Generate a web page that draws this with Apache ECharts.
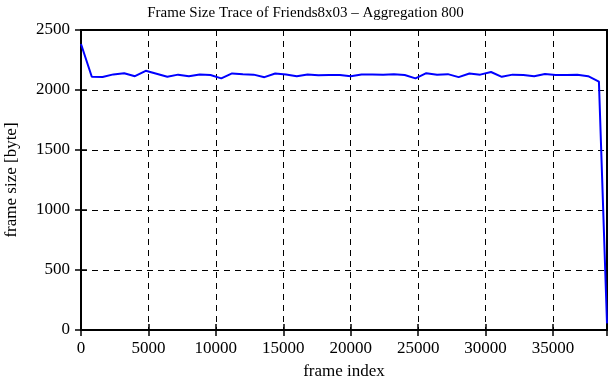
<!DOCTYPE html>
<html>
<head>
<meta charset="utf-8">
<script src="https://cdn.jsdelivr.net/npm/echarts@6/dist/echarts.min.js"></script>
<style>
  html, body { margin: 0; padding: 0; background: #fff; }
  #chart { width: 611px; height: 380px; }
</style>
</head>
<body>
<div id="chart"></div>
<script>
// frame index of each aggregated sample (every 800 frames, last one partial)
const frameIndex = [
    0, 800, 1600, 2400, 3200, 4000, 4800, 5600, 6400, 7200,
    8000, 8800, 9600, 10400, 11200, 12000, 12800, 13600, 14400, 15200,
    16000, 16800, 17600, 18400, 19200, 20000, 20800, 21600, 22400, 23200,
    24000, 24800, 25600, 26400, 27200, 28000, 28800, 29600, 30400, 31200,
    32000, 32800, 33600, 34400, 35200, 36000, 36800, 37600, 38400, 39000
];
// frame size [byte]
const frameSize = [
    2383, 2110, 2108, 2130, 2140, 2115, 2160, 2135, 2110, 2128,
    2115, 2130, 2125, 2097, 2138, 2132, 2128, 2107, 2138, 2130,
    2115, 2130, 2122, 2124, 2125, 2115, 2130, 2130, 2128, 2132,
    2125, 2097, 2140, 2128, 2132, 2107, 2138, 2128, 2150, 2110,
    2128, 2125, 2115, 2133, 2125, 2125, 2127, 2115, 2070, 55
];
const xTicks = [0, 5000, 10000, 15000, 20000, 25000, 30000, 35000];
const yTicks = [0, 500, 1000, 1500, 2000, 2500];

const serif = '"Liberation Serif", "DejaVu Serif", serif';

let myChart = echarts.init(document.getElementById('chart'));

const gridLine = { show: true, lineStyle: { color: '#000', type: [6, 5], width: 1 } };
const tick = { show: true, inside: true, length: 6, lineStyle: { color: '#000', width: 1.5 } };

let option = {
    animation: false,
    backgroundColor: '#fff',
    title: {
        text: 'Frame Size Trace of Friends8x03 \u2013 Aggregation 800',
        left: 'center', top: 1,
        textStyle: { fontFamily: serif, fontWeight: 'normal', fontSize: 15, color: '#000' }
    },
    grid: {
        left: 81, right: 4, top: 30, bottom: 50,
        outerBoundsMode: 'none', containLabel: false,
        show: true, borderColor: '#000', borderWidth: 2, backgroundColor: 'transparent'
    },
    xAxis: [{
        type: 'value', min: 0, max: 39000, interval: 5000,
        name: 'frame index', nameLocation: 'middle', nameGap: 33,
        nameTextStyle: { fontFamily: serif, fontSize: 17, color: '#000' },
        axisLine: { show: false },
        axisTick: tick,
        splitLine: gridLine,
        axisLabel: {
            fontFamily: serif, fontSize: 17, color: '#000', margin: 10,
            showMaxLabel: false,
            formatter: v => xTicks.includes(v) ? String(v) : ''
        }
    }, {
        type: 'value', min: 0, max: 39000, interval: 5000, position: 'top',
        axisLine: { show: false }, axisTick: tick, axisLabel: { show: false },
        splitLine: { show: false }
    }],
    yAxis: [{
        type: 'value', min: 0, max: 2500, interval: 500,
        name: 'frame size [byte]', nameLocation: 'middle', nameGap: 61,
        nameTextStyle: { fontFamily: serif, fontSize: 17, color: '#000' },
        axisLine: { show: false },
        axisTick: tick,
        splitLine: gridLine,
        axisLabel: {
            fontFamily: serif, fontSize: 17, color: '#000', margin: 11,
            formatter: v => yTicks.includes(v) ? String(v) : ''
        }
    }, {
        type: 'value', min: 0, max: 2500, interval: 500, position: 'right',
        axisLine: { show: false }, axisTick: tick, axisLabel: { show: false },
        splitLine: { show: false }
    }],
    series: [{
        type: 'line',
        data: frameIndex.map((x, i) => [x, frameSize[i]]),
        showSymbol: false,
        lineStyle: { color: '#0000ff', width: 2 },
        itemStyle: { color: '#0000ff' }
    }]
};
myChart.setOption(option);
</script>
</body>
</html>
